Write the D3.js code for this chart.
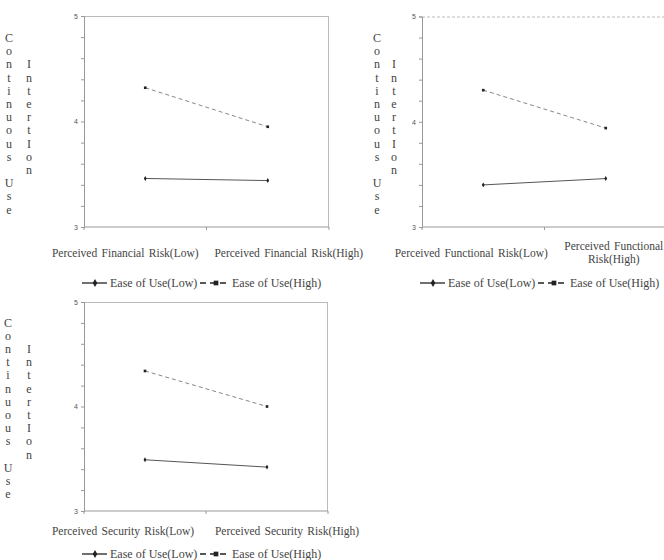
<!DOCTYPE html>
<html>
<head>
<meta charset="utf-8">
<style>
  body { margin: 0; background: #fff; }
  svg text { font-family: "Liberation Serif", "DejaVu Serif", serif; fill: #444; }
  .axis .domain { stroke: #999; }
  .axis line { stroke: #999; }
  .axis text { font-size: 7px; font-family: "Liberation Sans", sans-serif; fill: #555; }
</style>
</head>
<body>
<svg width="664" height="560"></svg>
<script src="https://d3js.org/d3.v7.min.js"></script>
<script>

// data
var panelCategories = [
  ["Perceived Financial Risk(Low)", "Perceived Financial Risk(High)"],
  ["Perceived Functional Risk(Low)", "Perceived Functional Risk(High)"],
  ["Perceived Security Risk(Low)", "Perceived Security Risk(High)"]
];
var easeLowValues = [[3.46, 3.44], [3.40, 3.46], [3.49, 3.42]];
var easeHighValues = [[4.32, 3.95], [4.30, 3.94], [4.34, 4.00]];
var seriesNames = ["Ease of Use(Low)", "Ease of Use(High)"];
var yTickLabels = [3, 4, 5];
var yTitle1 = "Continuous Use";
var yTitle2 = "IntertIon";

// panel placement
var panels = [
  { left: 84, top: 16, width: 245, height: 211, titleX: 9, titleX2: 29, titleY: 42,
    wrap: [400, 400], labelShift: [-20, 21], labelY: 29.5, legendY: 56, topDash: false },
  { left: 422, top: 16.5, width: 245, height: 210.5, titleX: 377, titleX2: 394, titleY: 42,
    wrap: [400, 120], labelShift: [-12, 8], labelY: 29.5, legendY: 56, topDash: true },
  { left: 84, top: 302, width: 244, height: 209, titleX: 8, titleX2: 29, titleY: 326.5,
    wrap: [400, 400], labelShift: [-22, 20], labelY: 23.5, legendY: 43, topDash: false }
];

var svg = d3.select("svg");

function wrapText(text, widths) {
  text.each(function(d, k) {
    var width = widths[k];
    var t = d3.select(this),
      words = t.text().split(/\s+/),
      x = t.attr("x"),
      line = [],
      lineNo = 0,
      tspan = t.text(null).append("tspan").attr("x", x);
    words.forEach(function(w) {
      line.push(w);
      tspan.text(line.join(" "));
      if (tspan.node().getComputedTextLength() > width && line.length > 1) {
        line.pop();
        tspan.text(line.join(" "));
        line = [w];
        lineNo++;
        tspan = t.append("tspan").attr("x", x).attr("dy", "1.1em").text(w);
      }
    });
    if (lineNo > 0) t.attr("dy", (-0.55 * lineNo) + "em");
  });
}

panels.forEach(function(p, pi) {
  var g = svg.append("g").attr("transform", "translate(" + p.left + "," + p.top + ")");
  var cats = panelCategories[pi];

  var x = d3.scaleBand().domain(cats).range([0, p.width]);
  var y = d3.scaleLinear().domain([3, 5]).range([p.height, 0]);

  // frame top + right
  g.append("line")
    .attr("x1", 0).attr("x2", p.width).attr("y1", 0.5).attr("y2", 0.5)
    .attr("stroke", "#bbb")
    .attr("stroke-dasharray", p.topDash ? "3,2" : null);
  g.append("line")
    .attr("x1", p.width - 0.5).attr("x2", p.width - 0.5).attr("y1", 0).attr("y2", p.height)
    .attr("stroke", "#bbb");

  // y axis: minor ticks every 0.2, labels at 3,4,5
  g.append("g")
    .attr("class", "axis")
    .call(d3.axisLeft(y).tickValues(d3.range(0, 11).map(function(i) { return 3 + i * 0.2; }))
      .tickSize(3).tickFormat(function(d) {
        var r = Math.round(d * 10) / 10;
        return yTickLabels.indexOf(r) >= 0 ? r : "";
      }));

  // x axis with ticks at band edges
  var xa = g.append("g")
    .attr("class", "axis")
    .attr("transform", "translate(0," + p.height + ")");
  xa.append("line").attr("x1", 0).attr("x2", p.width).attr("stroke", "#999");
  xa.selectAll(".edge")
    .data([0, 1, 2])
    .enter().append("line")
    .attr("x1", function(d) { return d * x.step(); })
    .attr("x2", function(d) { return d * x.step(); })
    .attr("y1", 0).attr("y2", 3)
    .attr("stroke", "#999");

  // category labels
  g.append("g").selectAll("text")
    .data(cats)
    .enter().append("text")
    .attr("x", function(d, i) { return x(d) + x.bandwidth() / 2 + p.labelShift[i]; })
    .attr("y", p.height + p.labelY)
    .attr("text-anchor", "middle")
    .attr("font-size", "11.5px")
    .attr("word-spacing", "1.5px")
    .text(function(d) { return d; })
    .call(wrapText, p.wrap);

  // series
  var series = [
    { name: seriesNames[0], values: easeLowValues[pi], color: "#555", dash: null, marker: "diamond" },
    { name: seriesNames[1], values: easeHighValues[pi], color: "#888", dash: "4,3", marker: "square" }
  ];
  var line = d3.line()
    .x(function(d, i) { return x(cats[i]) + x.bandwidth() / 2; })
    .y(function(d) { return y(d); });

  series.forEach(function(s) {
    g.append("path")
      .datum(s.values)
      .attr("fill", "none")
      .attr("stroke", s.color)
      .attr("stroke-width", 1)
      .attr("stroke-dasharray", s.dash)
      .attr("d", line);
    g.selectAll(null)
      .data(s.values)
      .enter().append("path")
      .attr("transform", function(d, i) {
        return "translate(" + (x(cats[i]) + x.bandwidth() / 2) + "," + y(d) + ")";
      })
      .attr("d", d3.symbol().type(s.marker === "square" ? d3.symbolSquare : d3.symbolDiamond).size(7))
      .attr("fill", "#222");
  });

  // vertical title letters
  var tg = svg.append("g").attr("font-size", "12px").attr("text-anchor", "middle");
  tg.selectAll(".c1")
    .data(yTitle1.split(""))
    .enter().append("text")
    .attr("x", p.titleX)
    .attr("y", function(d, i) { return p.titleY + i * 13.2; })
    .text(function(d) { return d; });
  tg.selectAll(".c2")
    .data(yTitle2.split(""))
    .enter().append("text")
    .attr("x", p.titleX2)
    .attr("y", function(d, i) { return p.titleY + (i + 2) * 13.2; })
    .text(function(d) { return d; });

  // legend
  var lg = svg.append("g")
    .attr("transform", "translate(" + (p.left - 2) + "," + (p.top + p.height + p.legendY) + ")");
  var lx = [0, 118];
  series.forEach(function(s, i) {
    var item = lg.append("g").attr("transform", "translate(" + lx[i] + ",0)");
    item.append("line")
      .attr("x1", 0).attr("x2", i === 0 ? 25 : 29)
      .attr("stroke", "#222").attr("stroke-width", 1.3)
      .attr("stroke-dasharray", i === 0 ? null : "6,4");
    item.append("path")
      .attr("transform", "translate(" + (i === 0 ? 13 : 16) + ",0)")
      .attr("d", d3.symbol().type(i === 0 ? d3.symbolDiamond : d3.symbolSquare).size(i === 0 ? 18 : 22))
      .attr("fill", "#222");
    item.append("text")
      .attr("x", i === 0 ? 28 : 32)
      .attr("dy", "0.35em")
      .attr("font-size", "12px")
      .text(s.name);
  });
});

</script>
</body>
</html>
